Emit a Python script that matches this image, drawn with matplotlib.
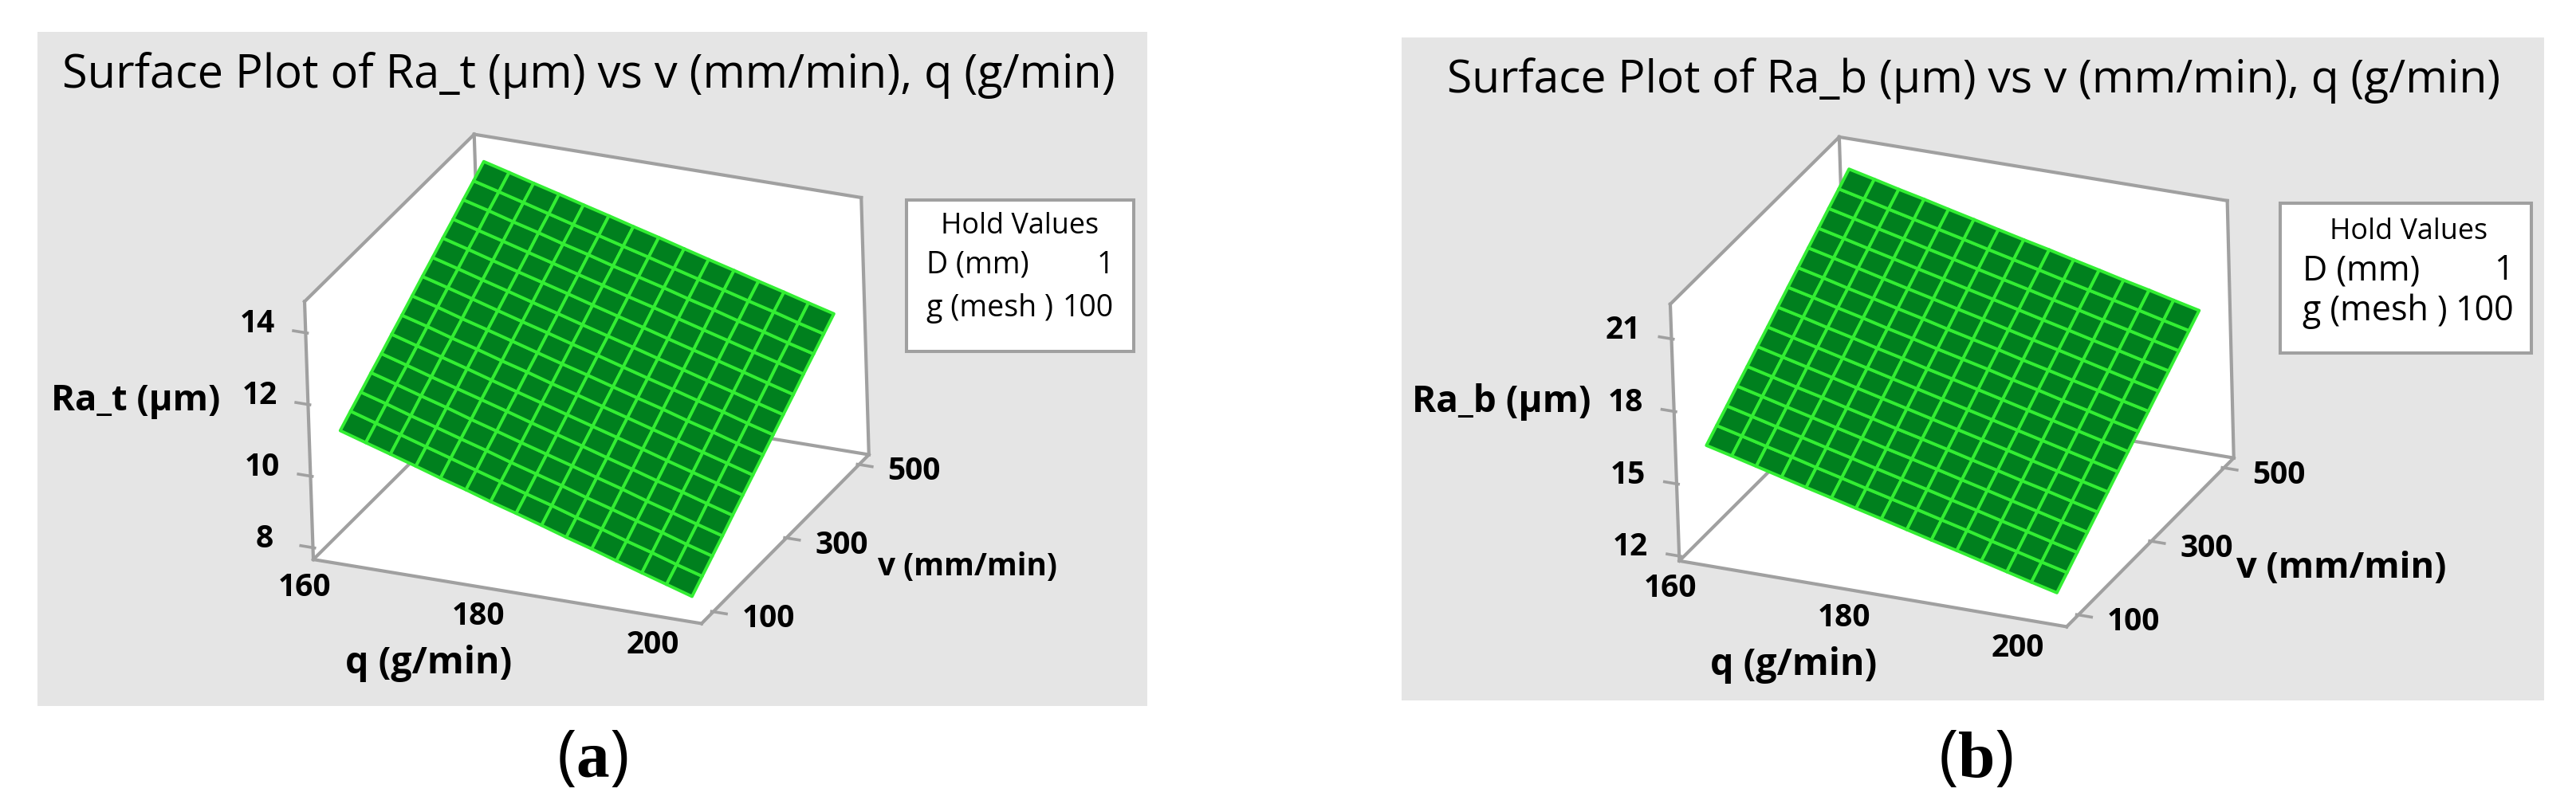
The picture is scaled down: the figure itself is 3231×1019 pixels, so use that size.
import numpy as np
import matplotlib
matplotlib.use('Agg')
import matplotlib.pyplot as plt
from matplotlib.patches import Rectangle
from mpl_toolkits.mplot3d import proj3d
from mpl_toolkits.mplot3d.art3d import Poly3DCollection

W, H = 3231, 1020
plt.rcParams['font.family'] = ['Open Sans', 'DejaVu Sans']
plt.rcParams['mathtext.fontset'] = 'custom'
plt.rcParams['mathtext.rm'] = 'Liberation Serif'
plt.rcParams['mathtext.bf'] = 'Liberation Serif:bold'

q_grid = [160, 162.9, 165.7, 168.6, 171.4, 174.3, 177.1, 180, 182.9, 185.7, 188.6, 191.4, 194.3, 197.1, 200]
v_grid = [100, 128.6, 157.1, 185.7, 214.3, 242.9, 271.4, 300, 328.6, 357.1, 385.7, 414.3, 442.9, 471.4, 500]
q_ticks = [160, 180, 200]
v_ticks = [100, 300, 500]
z_ticks_a = [8, 10, 12, 14]
z_ticks_b = [12, 15, 18, 21]
ra_t = [
    [11.03,10.81,10.60,10.38,10.16,9.95,9.73,9.52,9.30,9.08,8.87,8.65,8.43,8.22,8.00],
    [11.28,11.06,10.85,10.63,10.42,10.20,9.99,9.77,9.56,9.34,9.13,8.91,8.70,8.48,8.27],
    [11.52,11.31,11.09,10.88,10.67,10.46,10.24,10.03,9.82,9.60,9.39,9.18,8.97,8.75,8.54],
    [11.77,11.56,11.35,11.14,10.92,10.71,10.50,10.29,10.08,9.87,9.66,9.44,9.23,9.02,8.81],
    [12.01,11.80,11.59,11.38,11.18,10.97,10.76,10.55,10.34,10.13,9.92,9.71,9.51,9.30,9.09],
    [12.26,12.05,11.85,11.64,11.43,11.22,11.02,10.81,10.60,10.40,10.19,9.98,9.77,9.57,9.36],
    [12.50,12.30,12.09,11.89,11.68,11.48,11.27,11.07,10.86,10.66,10.45,10.25,10.04,9.84,9.63],
    [12.75,12.55,12.34,12.14,11.94,11.73,11.53,11.33,11.12,10.92,10.72,10.51,10.31,10.10,9.90],
    [13.00,12.80,12.60,12.39,12.19,11.99,11.79,11.59,11.38,11.18,10.98,10.78,10.58,10.37,10.17],
    [13.24,13.04,12.84,12.64,12.44,12.24,12.04,11.84,11.64,11.44,11.24,11.04,10.84,10.64,10.44],
    [13.49,13.29,13.09,12.89,12.70,12.50,12.30,12.10,11.90,11.70,11.50,11.31,11.11,10.91,10.71],
    [13.73,13.53,13.34,13.14,12.95,12.75,12.56,12.36,12.17,11.97,11.77,11.58,11.38,11.19,10.99],
    [13.98,13.79,13.59,13.40,13.20,13.01,12.81,12.62,12.43,12.23,12.04,11.84,11.65,11.45,11.26],
    [14.22,14.03,13.84,13.64,13.45,13.26,13.07,12.88,12.68,12.49,12.30,12.11,11.92,11.72,11.53],
    [14.47,14.28,14.09,13.90,13.71,13.52,13.33,13.14,12.94,12.75,12.56,12.37,12.18,11.99,11.80],
]
ra_b = [
    [16.24,15.98,15.72,15.45,15.19,14.93,14.67,14.41,14.14,13.88,13.62,13.36,13.09,12.83,12.57],
    [16.63,16.37,16.11,15.85,15.58,15.32,15.06,14.80,14.54,14.28,14.02,13.75,13.49,13.23,12.97],
    [17.01,16.75,16.49,16.23,15.97,15.71,15.45,15.19,14.93,14.67,14.41,14.15,13.89,13.63,13.37],
    [17.40,17.14,16.88,16.62,16.36,16.10,15.84,15.59,15.33,15.07,14.81,14.55,14.29,14.03,13.77],
    [17.78,17.52,17.26,17.01,16.75,16.49,16.23,15.98,15.72,15.46,15.20,14.94,14.69,14.43,14.17],
    [18.17,17.91,17.66,17.40,17.14,16.88,16.63,16.37,16.11,15.86,15.60,15.34,15.08,14.83,14.57],
    [18.55,18.29,18.04,17.78,17.53,17.27,17.02,16.76,16.50,16.25,15.99,15.74,15.48,15.23,14.97],
    [18.94,18.69,18.43,18.18,17.92,17.67,17.41,17.16,16.90,16.65,16.39,16.14,15.88,15.63,15.37],
    [19.33,19.08,18.82,18.57,18.31,18.06,17.80,17.55,17.30,17.04,16.79,16.53,16.28,16.02,15.77],
    [19.71,19.46,19.20,18.95,18.70,18.45,18.19,17.94,17.69,17.43,17.18,16.93,16.68,16.42,16.17],
    [20.10,19.85,19.60,19.34,19.09,18.84,18.59,18.34,18.08,17.83,17.58,17.33,17.07,16.82,16.57],
    [20.48,20.23,19.98,19.73,19.48,19.23,18.98,18.73,18.47,18.22,17.97,17.72,17.47,17.22,16.97],
    [20.87,20.62,20.37,20.12,19.87,19.62,19.37,19.12,18.87,18.62,18.37,18.12,17.87,17.62,17.37],
    [21.25,21.00,20.75,20.50,20.26,20.01,19.76,19.51,19.26,19.01,18.76,18.52,18.27,18.02,17.77],
    [21.64,21.39,21.14,20.90,20.65,20.40,20.15,19.90,19.66,19.41,19.16,18.91,18.67,18.42,18.17],
]

BG, GRAY, FILL, EDGE = '#E5E5E5', '#A0A0A0', '#00801E', '#33EE33'
q_lim = (157.8, 202.4)
v_lim = (68, 527)
TICK_FS = 28

fig = plt.figure(figsize=(W/100, H/100), dpi=100, facecolor='white')

def rect(x0, y0, x1, y1, **kw):
    fig.add_artist(Rectangle((x0/W, 1-y1/H), (x1-x0)/W, (y1-y0)/H, transform=fig.transFigure, **kw))

def label(x, y, s, size, **kw):
    kw.setdefault('ha', 'center')
    kw.setdefault('va', 'center')
    fig.text(x/W, 1-y/H, s, fontsize=size, **kw)

def panel(p):
    rect(*p['bg'], facecolor=BG, edgecolor='none', zorder=-2)
    rect(*p['hold'], facecolor='white', edgecolor=GRAY, linewidth=2.9, zorder=-1)
    ax = fig.add_axes([p['ax'][0]/W, 1-(p['ax'][1]+960)/H, 960/W, 960/H], projection='3d', computed_zorder=False)
    ax.set_axis_off()
    ax.patch.set_visible(False)
    (q0, q1), (v0, v1), (z0, z1) = q_lim, v_lim, p['zlim']
    walls = [[(q0, v0, z0), (q1, v0, z0), (q1, v1, z0), (q0, v1, z0)],
             [(q0, v0, z0), (q0, v1, z0), (q0, v1, z1), (q0, v0, z1)],
             [(q0, v1, z0), (q1, v1, z0), (q1, v1, z1), (q0, v1, z1)]]
    ax.add_collection3d(Poly3DCollection(walls, facecolor='white', edgecolor='none', zorder=1))
    edges = [((q0, v0, z0), (q1, v0, z0)), ((q1, v0, z0), (q1, v1, z0)),
             ((q1, v1, z0), (q0, v1, z0)), ((q0, v1, z0), (q0, v0, z0)),
             ((q0, v0, z0), (q0, v0, z1)), ((q0, v0, z1), (q0, v1, z1)),
             ((q0, v1, z1), (q0, v1, z0)), ((q0, v1, z1), (q1, v1, z1)),
             ((q1, v1, z1), (q1, v1, z0))]
    for a, b in edges:
        ax.plot(*zip(a, b), color=GRAY, lw=3.0, zorder=2, solid_capstyle='projecting')
    for t in p['zt']:
        ax.plot([q0-1.4, q0+0.2], [v0, v0], [t, t], color=GRAY, lw=2.6, zorder=2)
    for t in q_ticks:
        ax.plot([t, t], [v0-20, v0+2], [z0, z0], color=GRAY, lw=2.6, zorder=2)
    for t in v_ticks:
        ax.plot([q1-0.2, q1+1.5], [t, t], [z0, z0], color=GRAY, lw=2.6, zorder=2)
    Q, V = np.meshgrid(q_grid, v_grid)
    ax.plot_surface(Q, V, np.array(p['z']), rstride=1, cstride=1, color=FILL, edgecolor=EDGE,
                    linewidth=2.8, shade=False, zorder=3)
    # projective camera calibrated on the box corners of the reference
    fig.draw_without_rendering()
    inv = ax.transData.inverted()
    src = [(0,0,0),(1,0,0),(1,1,0),(0,0,1),(0,1,1),(1,1,1),(0,1,0)]
    A = []
    for (x, y, z), (px, py) in zip(src, p['box']):
        u, w = inv.transform((px, H-py))
        A.append([x, y, z, 1, 0, 0, 0, 0, -u*x, -u*y, -u*z, -u])
        A.append([0, 0, 0, 0, x, y, z, 1, -w*x, -w*y, -w*z, -w])
    P = np.linalg.svd(np.array(A))[2][-1].reshape(3, 4)
    Mn = np.array([P[0], P[1], [0, 1, 0, 0], P[2]])
    Nrm = np.array([[1/(q1-q0), 0, 0, -q0/(q1-q0)], [0, 1/(v1-v0), 0, -v0/(v1-v0)],
                    [0, 0, 1/(z1-z0), -z0/(z1-z0)], [0, 0, 0, 1]])
    M = Mn @ Nrm
    ax.get_proj = lambda: M

    def tick_label(xyz, s, dx, dy):
        x2, y2, _ = proj3d.proj_transform(*xyz, M)
        ax.annotate(s, xy=(x2, y2), xycoords='data', xytext=(dx*0.72, -dy*0.72), textcoords='offset points',
                    fontsize=TICK_FS, fontweight='bold', ha='center', va='center', annotation_clip=False, zorder=5)
    for t in p['zt']:
        tick_label((q0, v0, t), str(t), -61, -12)
    for t in q_ticks:
        tick_label((t, v0, z0), str(t), -35, 30)
    for t in v_ticks:
        tick_label((q1, t, z0), str(t), 69, 8)

    label(*p['title'], p['title_s'], p['title_fs'])
    label(*p['cap'], p['cap_s'], 60)
    hx = p['holdtxt']
    label(hx['hv'][0], hx['hv'][1], 'Hold Values', hx['fs0'])
    label(hx['l'], hx['y1'], 'D (mm)', hx['fs'], ha='left')
    label(hx['r'], hx['y1'], '1', hx['fs'], ha='right')
    label(hx['l'], hx['y2'], 'g (mesh )', hx['fs'], ha='left')
    label(hx['r'], hx['y2'], '100', hx['fs'], ha='right')
    for x, y, s, fs in p['axl']:
        label(x, y, s, fs, fontweight='bold')

panel(dict(bg=(47, 41, 1439, 887), hold=(1137, 252, 1422, 442), ax=(260, 30), zlim=(7.67, 14.87),
    zt=z_ticks_a, z=ra_t,
    box=[(392,705),(880,782),(1089,574),(383,379),(593,171),(1081,248),(607,489)],
    title=(738, 95), title_s='Surface Plot of Ra_t (µm) vs v (mm/min), q (g/min)', title_fs=41.5,
    cap=(743, 954), cap_s=r'($\mathbf{a}$)',
    holdtxt=dict(hv=(1279, 284), l=1162, r=1397, y1=333, y2=387, fs=27, fs0=25.8),
    axl=[(170, 503, 'Ra_t (µm)', 32.7), (538, 833, 'q (g/min)', 33.5), (1213, 712, 'v (mm/min)', 27.9)]))
panel(dict(bg=(1758, 48, 3191, 880), hold=(2860, 256, 3175, 444), ax=(1970, 30), zlim=(11.8, 22.43),
    zt=z_ticks_b, z=ra_b,
    box=[(2105.5,707),(2592,786),(2801,578),(2096,382),(2305,174.5),(2794.5,252),(2319,491.5)],
    title=(2476, 101), title_s='Surface Plot of Ra_b (µm) vs v (mm/min), q (g/min)', title_fs=41,
    cap=(2478, 954), cap_s=r'($\mathbf{b}$)',
    holdtxt=dict(hv=(3021, 291), l=2888, r=3153, y1=340, y2=391, fs=31, fs0=25.8),
    axl=[(1883, 505, 'Ra_b (µm)', 33), (2250, 835, 'q (g/min)', 33.5), (2937, 714, 'v (mm/min)', 32.6)]))
fig.savefig('out.png', dpi=100)
